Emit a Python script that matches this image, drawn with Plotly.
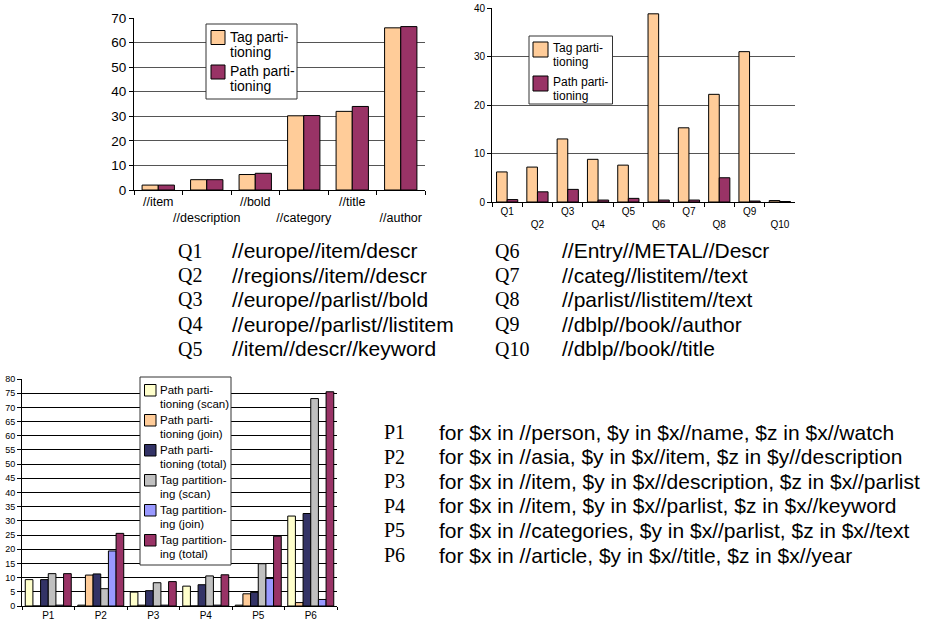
import plotly.graph_objects as go

W, H = 931, 621

# ---- Chart 1 data ----
c1_cats = ["//item", "//description", "//bold", "//category", "//title", "//author"]
c1_tag = [2.0, 4.2, 6.3, 30.2, 32.0, 66.0]
c1_path = [2.0, 4.2, 6.8, 30.3, 34.0, 66.5]
c1_yticks = [0, 10, 20, 30, 40, 50, 60, 70]

# ---- Chart 2 data ----
c2_cats = ["Q1", "Q2", "Q3", "Q4", "Q5", "Q6", "Q7", "Q8", "Q9", "Q10"]
c2_tag = [6.2, 7.2, 13.0, 8.8, 7.6, 38.8, 15.3, 22.2, 31.0, 0.3]
c2_path = [0.5, 2.1, 2.6, 0.4, 0.75, 0.4, 0.4, 5.0, 0.2, 0.1]
c2_yticks = [0, 10, 20, 30, 40]

# ---- Chart 3 data ----
c3_cats = ["P1", "P2", "P3", "P4", "P5", "P6"]
c3_path_scan = [9.3, 0.3, 4.9, 7.0, 0.3, 31.7]
c3_path_join = [0.0, 10.9, 0.3, 0.0, 4.3, 1.2]
c3_path_total = [9.3, 11.3, 5.4, 7.5, 4.8, 32.6]
c3_tag_scan = [11.4, 6.1, 8.2, 10.6, 14.9, 73.1]
c3_tag_join = [0.3, 19.4, 0.3, 0.3, 9.7, 2.3]
c3_tag_total = [11.4, 25.6, 8.6, 11.0, 24.6, 75.5]
c3_yticks = list(range(0, 85, 5))

# ---- Text lists ----
q_labels = ["Q1", "Q2", "Q3", "Q4", "Q5", "Q6", "Q7", "Q8", "Q9", "Q10"]
q_paths = ["//europe//item/descr", "//regions//item//descr", "//europe//parlist//bold",
           "//europe//parlist//listitem", "//item//descr//keyword",
           "//Entry//METAL//Descr", "//categ//listitem//text", "//parlist//listitem//text",
           "//dblp//book//author", "//dblp//book//title"]
p_labels = ["P1", "P2", "P3", "P4", "P5", "P6"]
p_queries = ["for $x in //person, $y in $x//name, $z in $x//watch",
             "for $x in //asia, $y in $x//item, $z in $y//description",
             "for $x in //item, $y in $x//description, $z in $x//parlist",
             "for $x in //item, $y in $x//parlist, $z in $x//keyword",
             "for $x in //categories, $y in $x//parlist, $z in $x//text",
             "for $x in //article, $y in $x//title, $z in $x//year"]

c12_legend = [("Tag parti-", "tioning"), ("Path parti-", "tioning")]
c3_legend = [("Path parti-", "tioning (scan)"), ("Path parti-", "tioning (join)"),
             ("Path parti-", "tioning (total)"), ("Tag partition-", "ing (scan)"),
             ("Tag partition-", "ing (join)"), ("Tag partition-", "ing (total)")]

PEACH = "#FFCC99"
MAROON = "#993366"
c3_colors = ["#FFFFCC", "#FFCC99", "#333366", "#C0C0C0", "#9999FF", MAROON]
SANS = "Liberation Sans, Arial, sans-serif"
SERIF = "Liberation Serif, Times New Roman, serif"


def px(x):
    return x / W


def py(y):
    return 1 - y / H


def stagger(cats):
    return [c if i % 2 == 0 else "<br>" + c for i, c in enumerate(cats)]


fig = go.Figure()
line = dict(color="black", width=1)


def add_group(cats, series, colors, xa, ya, total_width):
    n = len(series)
    w = total_width / n
    for i, (vals, col) in enumerate(zip(series, colors)):
        fig.add_trace(go.Bar(x=cats, y=vals, marker=dict(color=col, line=line),
                             width=w, offset=-total_width / 2 + i * w,
                             xaxis=xa, yaxis=ya, showlegend=False, hoverinfo="x+y"))


add_group(c1_cats, [c1_tag, c1_path], [PEACH, MAROON], "x", "y", 0.667)
add_group(c2_cats, [c2_tag, c2_path], [PEACH, MAROON], "x2", "y2", 0.70)
add_group(c3_cats, [c3_path_scan, c3_path_join, c3_path_total, c3_tag_scan, c3_tag_join, c3_tag_total],
          c3_colors, "x3", "y3", 0.876)

common_x = dict(type="category", showline=True, linecolor="black", linewidth=1, ticks="outside",
                tickson="boundaries", ticklen=4, tickcolor="black", showgrid=False, automargin=False,
                fixedrange=True, tickangle=0)
common_y = dict(showline=True, linecolor="black", linewidth=1, ticks="outside", ticklen=4,
                tickcolor="black", showgrid=True, automargin=False, zeroline=False, fixedrange=True)

annotations = []
shapes = []


def text(x, y, s, size, family=SANS):
    annotations.append(dict(x=px(x), y=py(y), text=s, xref="paper", yref="paper",
                            xanchor="left", yanchor="middle", showarrow=False,
                            font=dict(family=family, size=size, color="black")))


# Query lists
for i in range(5):
    y = 250.5 + 24.5 * i
    text(176, y, q_labels[i], 20, SERIF)
    text(230, y, q_paths[i], 21)
    text(493, y, q_labels[i + 5], 20, SERIF)
    text(560, y, q_paths[i + 5], 21)
for i in range(6):
    y = 432 + 24.6 * i
    text(382, y, p_labels[i], 20, SERIF)
    text(437, y, p_queries[i], 21)


# Legends (drawn as boxes, swatches and text)
def legend(box, items, colors, sw_x, sw_size, sw_top0, step, text_x, l1_off, l2_off, size):
    x0, y0, x1, y1 = box
    shapes.append(dict(type="rect", xref="paper", yref="paper", x0=px(x0), x1=px(x1), y0=py(y1), y1=py(y0),
                       line=dict(color="#333333", width=1), fillcolor="white", layer="above"))
    for i, ((a, b), col) in enumerate(zip(items, colors)):
        top = sw_top0 + i * step
        shapes.append(dict(type="rect", xref="paper", yref="paper", x0=px(sw_x), x1=px(sw_x + sw_size),
                           y0=py(top + sw_size), y1=py(top), line=dict(color="black", width=1),
                           fillcolor=col, layer="above"))
        text(text_x, top + l1_off, a, size)
        text(text_x, top + l2_off, b, size)


legend((206, 24, 297, 99), c12_legend, [PEACH, MAROON], 211, 14, 30.5, 34.5, 228, 6.5, 21.5, 14)
legend((529, 36, 612.5, 104), c12_legend, [PEACH, MAROON], 533, 15, 42, 34, 551, 5.5, 19.5, 12)
legend((140, 377, 231, 565), c3_legend, c3_colors, 144.5, 11.5, 384.5, 30, 158, 5, 19.3, 11.5)

fig.update_layout(
    width=W, height=H, margin=dict(l=0, r=0, t=0, b=0),
    paper_bgcolor="white", plot_bgcolor="white",
    font=dict(family=SANS, color="black"),
    barmode="overlay", showlegend=False,
    xaxis=dict(common_x, domain=[px(134), px(425)], anchor="y",
               tickvals=c1_cats, ticktext=stagger(c1_cats), tickfont=dict(size=12.5)),
    yaxis=dict(common_y, domain=[py(190), py(18)], anchor="x", range=[0, 70], tickvals=c1_yticks,
               gridcolor="#555555", tickfont=dict(size=13.5)),
    xaxis2=dict(common_x, domain=[px(492), px(795)], anchor="y2",
                tickvals=c2_cats, ticktext=stagger(c2_cats), tickfont=dict(size=10)),
    yaxis2=dict(common_y, domain=[py(202), py(8)], anchor="x2", range=[0, 40], tickvals=c2_yticks,
                gridcolor="#555555", tickfont=dict(size=10)),
    xaxis3=dict(common_x, domain=[px(22), px(337)], anchor="y3", tickfont=dict(size=10), ticklen=3),
    yaxis3=dict(common_y, domain=[py(606), py(379)], anchor="x3", range=[0, 80], tickvals=c3_yticks,
                gridcolor="black", tickfont=dict(size=9)),
    annotations=annotations,
    shapes=shapes,
)

fig.write_html("out.html", config={"displayModeBar": False},
               post_script="document.body.style.margin='0px';")
